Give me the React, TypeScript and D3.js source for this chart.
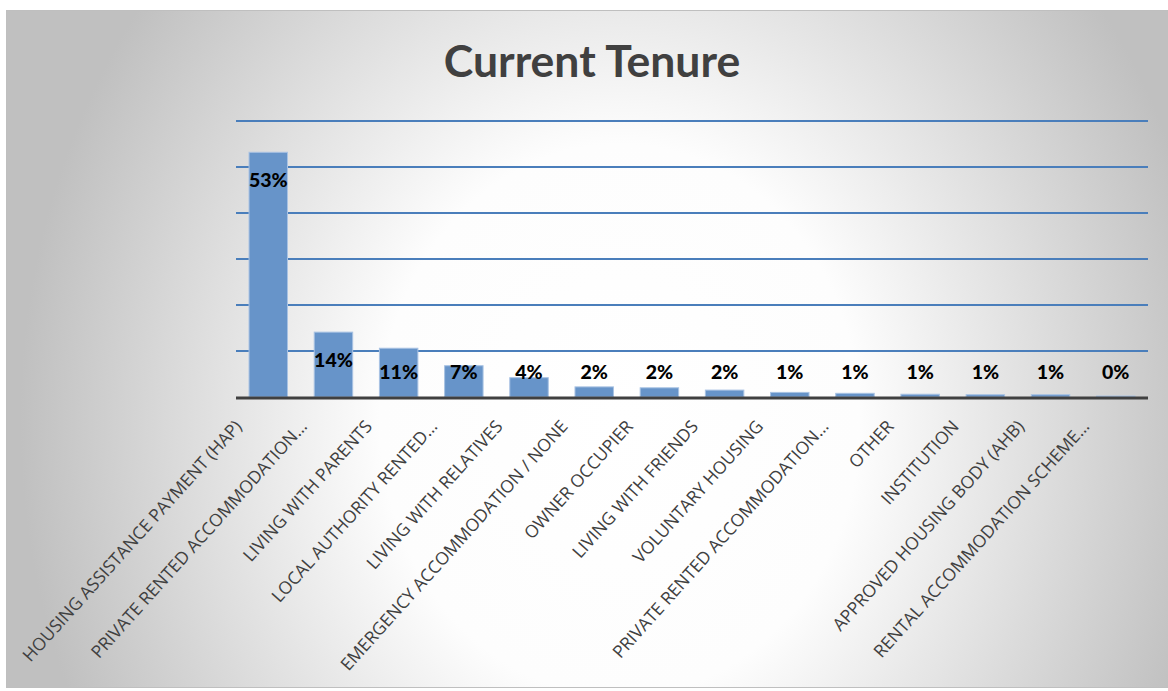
import { useEffect, useRef } from 'react';
import * as d3 from 'd3';

const categories = [
  'HOUSING ASSISTANCE PAYMENT (HAP)',
  'PRIVATE RENTED ACCOMMODATION…',
  'LIVING WITH PARENTS',
  'LOCAL AUTHORITY RENTED…',
  'LIVING WITH RELATIVES',
  'EMERGENCY ACCOMMODATION / NONE',
  'OWNER OCCUPIER',
  'LIVING WITH FRIENDS',
  'VOLUNTARY HOUSING',
  'PRIVATE RENTED ACCOMMODATION…',
  'OTHER',
  'INSTITUTION',
  'APPROVED HOUSING BODY (AHB)',
  'RENTAL ACCOMMODATION SCHEME…',
];

const values = [53.2, 14.1, 10.6, 6.8, 4.2, 2.2, 2.0, 1.5, 1.0, 0.8, 0.6, 0.5, 0.5, 0.2];

const gridTicks = [10, 20, 30, 40, 50, 60];

const W = 1168;
const H = 691;

export default function App() {
  const svgRef = useRef<SVGSVGElement>(null);

  useEffect(() => {
    if (!svgRef.current) return;
    const svg = d3.select(svgRef.current);
    svg.selectAll('*').remove();

    const margin = { top: 121, right: 20, bottom: 294, left: 236 };

    // fond en dégradé radial (ellipse étirée verticalement)
    const defs = svg.append('defs');
    const grad = defs.append('radialGradient')
      .attr('id', 'bg')
      .attr('gradientUnits', 'userSpaceOnUse')
      .attr('cx', 620)
      .attr('cy', 420)
      .attr('r', 600)
      .attr('gradientTransform', 'translate(620,420) scale(1,1.15) translate(-620,-420)');
    grad.append('stop').attr('offset', 0).attr('stop-color', '#ffffff');
    grad.append('stop').attr('offset', 0.4).attr('stop-color', '#fdfdfd');
    grad.append('stop').attr('offset', 1).attr('stop-color', '#c0c0c0');

    svg.append('rect').attr('width', W).attr('height', H).attr('fill', '#ffffff');
    svg.append('rect')
      .attr('x', 6.5)
      .attr('y', 10.5)
      .attr('width', W)
      .attr('height', 677)
      .attr('fill', 'url(#bg)')
      .attr('stroke', '#bfbfbf')
      .attr('stroke-width', 1);

    svg.append('text')
      .attr('x', 592)
      .attr('y', 77)
      .attr('text-anchor', 'middle')
      .style('font-family', 'Lato, "Open Sans", sans-serif')
      .style('font-size', '44.5px')
      .style('font-weight', '700')
      .style('fill', '#404040')
      .text('Current Tenure');

    const x = d3.scaleBand<string>()
      .domain(categories.map((c, i) => `${i}`))
      .range([margin.left, W - margin.right])
      .paddingInner(0.41)
      .paddingOuter(0.2);

    const y = d3.scaleLinear()
      .domain([0, 60])
      .range([H - margin.bottom, margin.top]);

    const g = svg.append('g');

    g.selectAll('.grid')
      .data(gridTicks)
      .enter()
      .append('line')
      .attr('x1', margin.left)
      .attr('x2', W - margin.right)
      .attr('y1', d => y(d))
      .attr('y2', d => y(d))
      .style('stroke', '#4a7ebb')
      .style('stroke-width', '2px');

    g.selectAll('.bar')
      .data(values)
      .enter()
      .append('rect')
      .attr('x', (d, i) => x(`${i}`)!)
      .attr('width', x.bandwidth())
      .attr('y', d => y(d))
      .attr('height', d => y(0) - y(d))
      .style('fill', '#6794c9')
      .style('stroke', '#a8c2e3')
      .style('stroke-width', '1px');

    g.append('line')
      .attr('x1', margin.left)
      .attr('x2', W - margin.right)
      .attr('y1', y(0) + 1)
      .attr('y2', y(0) + 1)
      .style('stroke', '#404040')
      .style('stroke-width', '3px');

    g.selectAll('.lbl')
      .data(values)
      .enter()
      .append('text')
      .attr('x', (d, i) => x(`${i}`)! + x.bandwidth() / 2)
      .attr('y', d => Math.min(y(d) + 28, y(0) - 25))
      .attr('dy', '0.35em')
      .attr('text-anchor', 'middle')
      .style('font-family', 'Lato, "Open Sans", sans-serif')
      .style('font-size', '19.5px')
      .style('font-weight', '900')
      .style('fill', '#000000')
      .text(d => `${Math.round(d)}%`);

    g.selectAll('.cat')
      .data(categories)
      .enter()
      .append('text')
      .attr('transform', (d, i) => {
        const cx = x(`${i}`)! + x.bandwidth() / 2;
        return `translate(${cx - 30},${y(0) + 26}) rotate(-48)`;
      })
      .attr('text-anchor', 'end')
      .attr('dy', '0.35em')
      .style('font-family', '"Open Sans", sans-serif')
      .style('font-size', '17.5px')
      .style('fill', '#404040')
      .text(d => d);
  }, []);

  return (
    <svg
      ref={svgRef}
      width={W}
      height={H}
      style={{ position: 'absolute', left: 0, top: 0, display: 'block' }}
    />
  );
}
